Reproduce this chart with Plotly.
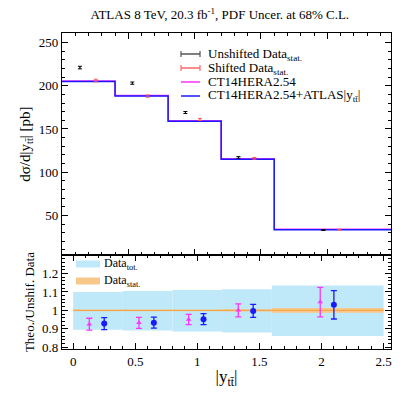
import plotly.graph_objects as go
from plotly.subplots import make_subplots

# bins in |y_tt|
edges = [0.0, 0.4, 0.8, 1.2, 1.6, 2.5]
theory = [205, 188, 159, 115, 33.5]
unshifted = [221, 203, 169, 117, 33]
unshifted_err = [1.5, 1.3, 1.2, 1.0, 0.5]
shifted = [206, 188, 161, 116, 33.5]
shifted_err = [1.5, 1.3, 1.2, 1.0, 0.5]
unsh_x = [0.135, 0.53, 0.93, 1.33, 1.97]
sh_x = [0.255, 0.645, 1.04, 1.45, 2.09]

# ratio panel
tot_up = [1.10, 1.105, 1.11, 1.115, 1.135]
tot_lo = [0.895, 0.89, 0.885, 0.88, 0.86]
stat_half = [0.005, 0.005, 0.005, 0.006, 0.013]
ct14_x = [0.13, 0.53, 0.93, 1.33, 1.99]
ct14_r = [0.925, 0.932, 0.95, 1.0, 1.045]
ct14_e = [0.032, 0.03, 0.028, 0.035, 0.08]
atl_x = [0.25, 0.65, 1.05, 1.45, 2.1]
atl_r = [0.928, 0.933, 0.952, 0.997, 1.03]
atl_e = [0.033, 0.03, 0.03, 0.035, 0.077]

FONT = "Liberation Serif, DejaVu Serif, serif"

fig = make_subplots(rows=2, cols=1, row_heights=[0.703, 0.297], vertical_spacing=0)

# step histograms
sx, sy = [], []
for i in range(len(theory)):
    sx += [edges[i], edges[i + 1]]
    sy += [theory[i], theory[i]]
fig.add_trace(go.Scatter(x=sx, y=[v + 0.6 for v in sy], mode="lines",
                         line=dict(color="#ff33ff", width=1.5)), row=1, col=1)
fig.add_trace(go.Scatter(x=sx, y=sy, mode="lines",
                         line=dict(color="#1a1aff", width=1.5)), row=1, col=1)
fig.add_trace(go.Scatter(x=unsh_x, y=unshifted, mode="markers",
                         marker=dict(size=1, color="black"),
                         error_y=dict(array=unshifted_err, color="black", width=2, thickness=1),
                         error_x=dict(value=0.015, color="black", width=0, thickness=1)), row=1, col=1)
fig.add_trace(go.Scatter(x=sh_x, y=shifted, mode="markers",
                         marker=dict(size=1, color="#ff5555"),
                         error_y=dict(array=shifted_err, color="#ff5555", width=2, thickness=1),
                         error_x=dict(value=0.015, color="#ff5555", width=0, thickness=1)), row=1, col=1)

# ratio bands
for i in range(len(tot_up)):
    x0, x1 = edges[i], edges[i + 1]
    fig.add_trace(go.Scatter(x=[x0, x1, x1, x0], y=[tot_lo[i], tot_lo[i], tot_up[i], tot_up[i]],
                             fill="toself", fillcolor="#bfe8f8", mode="none"), row=2, col=1)
for i in range(len(tot_up)):
    x0, x1 = edges[i], edges[i + 1]
    fig.add_trace(go.Scatter(x=[x0, x1, x1, x0],
                             y=[1 - stat_half[i], 1 - stat_half[i], 1 + stat_half[i], 1 + stat_half[i]],
                             fill="toself", fillcolor="#f8c88a", mode="none"), row=2, col=1)
    fig.add_trace(go.Scatter(x=[x0, x1], y=[1, 1], mode="lines",
                             line=dict(color="#f0a040", width=1)), row=2, col=1)
fig.add_trace(go.Scatter(x=ct14_x, y=ct14_r, mode="markers",
                         marker=dict(symbol="triangle-up", size=5, color="#ff33ff"),
                         error_y=dict(array=ct14_e, color="#ff33ff", width=3, thickness=1.3)), row=2, col=1)
fig.add_trace(go.Scatter(x=atl_x, y=atl_r, mode="markers",
                         marker=dict(symbol="circle", size=6, color="#1a1aff"),
                         error_y=dict(array=atl_e, color="#1a1aff", width=3, thickness=1.3)), row=2, col=1)

ax = dict(showline=True, linecolor="black", linewidth=1.2, mirror="allticks", ticks="inside",
          ticklen=6, tickcolor="black", showgrid=False, zeroline=False,
          minor=dict(ticks="inside", ticklen=3, tickcolor="black"),
          tickfont=dict(family=FONT, size=13, color="black"))
fig.update_xaxes(**ax)
fig.update_yaxes(**ax)
fig.update_xaxes(range=[0, 2.48], dtick=0.5, showticklabels=False, minor_dtick=0.1, row=1, col=1)
fig.update_xaxes(range=[-0.09, 2.56], dtick=0.5, minor_dtick=0.1, row=2, col=1,
                 title=dict(text="|y<sub>tt̄</sub>|", font=dict(family=FONT, size=17), standoff=2))
fig.update_yaxes(range=[4, 261], dtick=50, minor_dtick=10, row=1, col=1,
                 title=dict(text="dσ/d|y<sub>tt̄</sub>| [pb]", font=dict(family=FONT, size=15), standoff=4))
fig.update_yaxes(range=[0.79, 1.30], dtick=0.1, minor_dtick=0.02, tickvals=[0.8, 0.9, 1, 1.1, 1.2],
                 ticktext=["0.8", "0.9", "1", "1.1", "1.2"], row=2, col=1,
                 title=dict(text="Theo./Unshif. Data", font=dict(family=FONT, size=13), standoff=4))

# legend (drawn by hand, paper coords)
W, H = 407, 407
L, R, T, B = 62, 16, 33, 58
def px(x):
    return (x - L) / (W - L - R)
def py(y):
    return 1 - (y - T) / (H - T - B)

top_items = [("Unshifted Data<sub>stat.</sub>", "#555555", True, 54),
             ("Shifted Data<sub>stat.</sub>", "#ff6666", True, 68),
             ("CT14HERA2.54", "#ff33ff", False, 82),
             ("CT14HERA2.54+ATLAS|y<sub>tt̄</sub>|", "#1a1aff", False, 96)]
for text, col, bar, y in top_items:
    fig.add_shape(type="line", xref="paper", yref="paper", x0=px(181), x1=px(200), y0=py(y), y1=py(y),
                  line=dict(color=col, width=1.5))
    if bar:
        for xe in (181, 200):
            fig.add_shape(type="line", xref="paper", yref="paper", x0=px(xe), x1=px(xe),
                          y0=py(y - 3), y1=py(y + 3), line=dict(color=col, width=1.2))
    fig.add_annotation(xref="paper", yref="paper", x=px(206), y=py(y), text=text, showarrow=False,
                       xanchor="left", yanchor="middle", font=dict(family=FONT, size=13, color="black"))

bot_items = [("Data<sub>tot.</sub>", "#bfe8f8", 264), ("Data<sub>stat.</sub>", "#f8c88a", 281)]
for text, col, y in bot_items:
    fig.add_shape(type="rect", xref="paper", yref="paper", x0=px(76), x1=px(100),
                  y0=py(y - 3.5), y1=py(y + 3.5), fillcolor=col, line=dict(width=0))
    fig.add_annotation(xref="paper", yref="paper", x=px(102), y=py(y), text=text, showarrow=False,
                       xanchor="left", yanchor="middle", font=dict(family=FONT, size=12, color="black"))

fig.update_layout(
    width=W, height=H, margin=dict(l=L, r=R, t=T, b=B, autoexpand=False),
    font=dict(family=FONT, color="black"),
    paper_bgcolor="white", plot_bgcolor="white", showlegend=False,
    title=dict(text="ATLAS 8 TeV, 20.3 fb<sup>-1</sup>, PDF Uncer. at 68% C.L.",
               x=0.54, xanchor="center", y=0.975, yanchor="top",
               font=dict(family=FONT, size=13, color="black")),
)

fig.write_html("out.html", post_script="document.body.style.margin='0';",
               config={"displayModeBar": False})
